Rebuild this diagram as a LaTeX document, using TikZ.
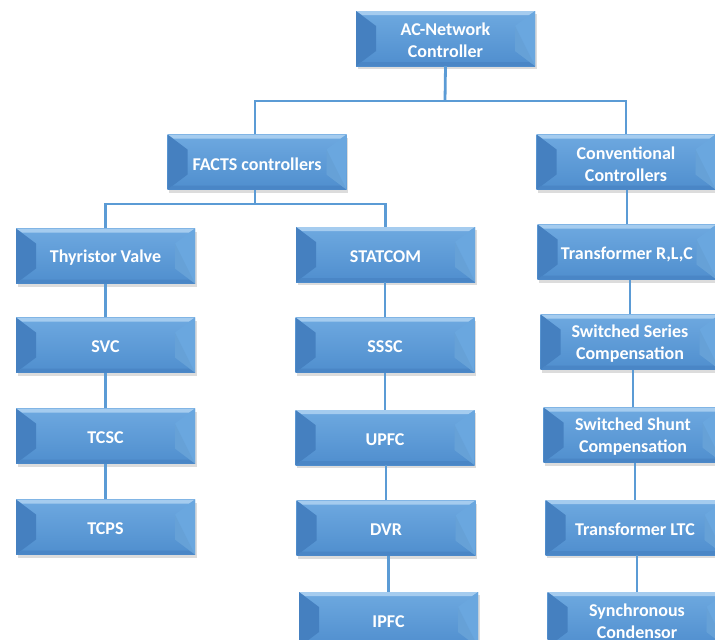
\documentclass[tikz,border=0pt]{standalone}
\usepackage{fontspec}
\setmainfont{Carlito}
\usetikzlibrary{calc,shadows}
\definecolor{basetop}{HTML}{6EA9E0}
\definecolor{basebot}{HTML}{4F8ECE}
\definecolor{topface}{HTML}{A5CCEF}
\definecolor{leftface}{HTML}{4580C0}
\definecolor{rightface}{HTML}{6AA7DF}
\definecolor{botface}{HTML}{4A86C6}
\definecolor{connc}{HTML}{5B9BD5}
\tikzset{
  boxtext/.style={text=white, align=center, inner sep=0pt,
    font=\bfseries\fontsize{18}{22}\selectfont, yshift=-2pt},
  bevbox/.style={rectangle, minimum width=179pt, minimum height=55pt, inner sep=0pt,
    top color=basetop, bottom color=basebot,
    label={[boxtext]center:{#1}},
    drop shadow={shadow xshift=1.5pt, shadow yshift=-3pt, fill=black!45, opacity=0.3},
    path picture={
      \coordinate (nw) at (path picture bounding box.north west);
      \coordinate (ne) at (path picture bounding box.north east);
      \coordinate (sw) at (path picture bounding box.south west);
      \coordinate (se) at (path picture bounding box.south east);
      \fill[topface] (nw) -- (ne) -- ($(ne)+(-6pt,-4pt)$) -- ($(nw)+(6pt,-4pt)$) -- cycle;
      \fill[botface] (sw) -- (se) -- ($(se)+(-6pt,4pt)$) -- ($(sw)+(6pt,4pt)$) -- cycle;
      \fill[leftface] (nw) -- ($(nw)+(20pt,-15pt)$) -- ($(sw)+(20pt,15pt)$) -- (sw) -- cycle;
      \fill[rightface] (ne) -- ($(ne)+(-20pt,-15pt)$) -- ($(se)+(-20pt,15pt)$) -- (se) -- cycle;
      \fill[rightface!90!black, opacity=0.35] (se) -- ($(se)+(-20pt,15pt)$) -- ($(ne)+(-20pt,-15pt)$) -- cycle;
    }},
  conn/.style={draw=connc, line width=2.8pt}
}
\begin{document}
\begin{tikzpicture}[x=1pt,y=-1pt]
\useasboundingbox (0,0) rectangle (715,640);
\clip (0,0) rectangle (715,640);
\fill[white] (0,0) rectangle (715,640);
% junctions
\coordinate (j1) at (445,101);
\coordinate (j2) at (255,204);
% nodes
\node[bevbox={AC-Network\\Controller}] (ac) at (445.5,38.5) {};
\node[bevbox={FACTS controllers}] (facts) at (257,162) {};
\node[bevbox={Conventional\\Controllers}] (conv) at (626,162) {};
\node[bevbox={Thyristor Valve}] (thy) at (105.5,256) {};
\node[bevbox={STATCOM}] (stat) at (385.5,254.5) {};
\node[bevbox={Transformer R,L,C}] (trlc) at (627,252) {};
\node[bevbox={SVC}] (svc) at (105.5,345) {};
\node[bevbox={TCSC}] (tcsc) at (105.5,436) {};
\node[bevbox={TCPS}] (tcps) at (105.5,527) {};
\node[bevbox={SSSC}] (sssc) at (385,345) {};
\node[bevbox={UPFC}] (upfc) at (385,437.5) {};
\node[bevbox={DVR}] (dvr) at (386,528) {};
\node[bevbox={IPFC}] (ipfc) at (388.5,619.5) {};
\node[bevbox={Switched Series\\Compensation}] (sser) at (630,342) {};
\node[bevbox={Switched Shunt\\Compensation}] (sshunt) at (633,435) {};
\node[bevbox={Transformer LTC}] (tltc) at (635,527.5) {};
\node[bevbox={Synchronous\\Condensor}] (sync) at (637,619.5) {};
% connectors
\draw[conn] (ac.south) -- (j1);
\draw[conn] (j2 |- facts.north) |- (j1) -| (conv.north);
\draw[conn] (facts.south -| j2) -- (j2);
\draw[conn] (thy.north) |- (j2) -| (stat.north);
\draw[conn] (svc.north) -- (svc.north |- thy.south);
\draw[conn] (tcsc.north) -- (tcsc.north |- svc.south);
\draw[conn] (tcps.north) -- (tcps.north |- tcsc.south);
\draw[conn] (sssc.north) -- (sssc.north |- stat.south);
\draw[conn] (upfc.north) -- (upfc.north |- sssc.south);
\draw[conn] (dvr.north) -- (dvr.north |- upfc.south);
\draw[conn] (ipfc.north) -- (ipfc.north |- dvr.south);
\draw[conn] (trlc.north) -- (trlc.north |- conv.south);
\draw[conn] (sser.north) -- (sser.north |- trlc.south);
\draw[conn] (sshunt.north) -- (sshunt.north |- sser.south);
\draw[conn] (tltc.north) -- (tltc.north |- sshunt.south);
\draw[conn] (sync.north) -- (sync.north |- tltc.south);
\end{tikzpicture}
\end{document}
